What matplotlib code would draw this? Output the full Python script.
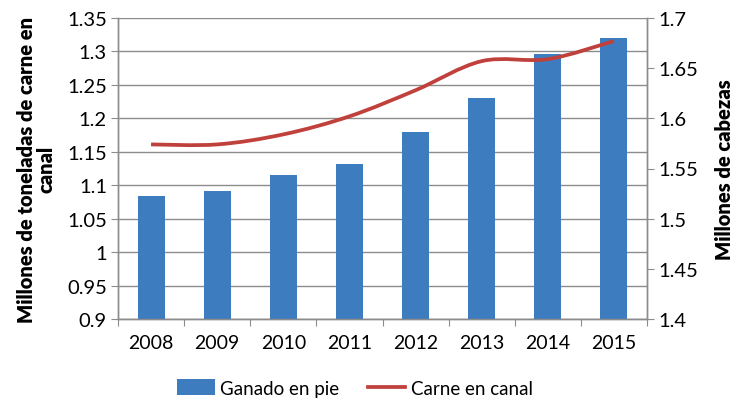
import numpy as np
import matplotlib
matplotlib.use("Agg")
import matplotlib.pyplot as plt
from matplotlib.path import Path
from matplotlib.patches import PathPatch, Patch
from matplotlib.lines import Line2D

# ==========================
# data
# ==========================
years = ["2008", "2009", "2010", "2011", "2012", "2013", "2014", "2015"]
ganado_en_pie = [1.084, 1.091, 1.115, 1.132, 1.179, 1.230, 1.296, 1.320]
carne_en_canal = [1.574, 1.574, 1.584, 1.602, 1.628, 1.657, 1.659, 1.677]

left_ticks = [0.9, 0.95, 1, 1.05, 1.1, 1.15, 1.2, 1.25, 1.3, 1.35]
right_ticks = [1.4, 1.45, 1.5, 1.55, 1.6, 1.65, 1.7]

bar_color = "#3E7CC0"
line_color = "#C0403C"
axis_gray = "#8C8C8C"

plt.rcParams["font.family"] = ["Lato", "DejaVu Sans"]

fig = plt.figure(figsize=(7.34, 4.02), dpi=100)
ax = fig.add_axes([118 / 734, 1 - 320 / 402, 529 / 734, 301 / 402])
ax2 = ax.twinx()

x = np.arange(len(years))
ax.bar(x, ganado_en_pie, width=0.41, color=bar_color, zorder=3)
ax.set_xlim(-0.5, len(years) - 0.5)
ax.set_ylim(0.9, 1.35)
ax.set_yticks(left_ticks)
ax.set_yticklabels([f"{v:g}" for v in left_ticks])
ax.yaxis.grid(True, color=axis_gray, linewidth=1.0)
ax.set_axisbelow(True)

# x ticks sit between categories, labels centred under bars
ax.set_xticks(np.arange(-0.5, len(years)), minor=False)
ax.set_xticklabels([])
ax.set_xticks(x, minor=True)
ax.set_xticklabels(years, minor=True)
ax.tick_params(axis="x", which="major", length=5, color=axis_gray, direction="out")
ax.tick_params(axis="x", which="minor", length=0, pad=11, labelsize=14)
ax.tick_params(axis="y", length=5, color=axis_gray, labelsize=14.5, pad=3)

# smooth line (Excel style) through the points via cubic bezier segments
ax2.set_ylim(1.4, 1.7)
ax2.set_yticks(right_ticks)
ax2.set_yticklabels([f"{v:g}" for v in right_ticks])
pts = np.column_stack([x, carne_en_canal]).astype(float)
verts = [tuple(pts[0])]
codes = [Path.MOVETO]
t = 1 / 6
for i in range(len(pts) - 1):
    p0 = pts[i - 1] if i > 0 else pts[i]
    p1 = pts[i]
    p2 = pts[i + 1]
    p3 = pts[i + 2] if i + 2 < len(pts) else pts[i + 1]
    c1 = p1 + (p2 - p0) * t
    c2 = p2 - (p3 - p1) * t
    verts += [tuple(c1), tuple(c2), tuple(p2)]
    codes += [Path.CURVE4] * 3
ax2.add_patch(PathPatch(Path(verts, codes), facecolor="none",
                        edgecolor=line_color, linewidth=2.7, capstyle="butt", zorder=4))
ax2.tick_params(axis="y", length=5, color=axis_gray, labelsize=14.5, pad=3)

for a in (ax, ax2):
    a.spines["top"].set_visible(False)
    for s in ("left", "right", "bottom"):
        a.spines[s].set_color(axis_gray)
        a.spines[s].set_linewidth(1.0)

ax.set_ylabel("Millones de toneladas de carne en\ncanal", fontsize=14.5,
              fontweight="heavy", labelpad=8, linespacing=1.05,
              multialignment="center")
ax2.set_ylabel("Millones de cabezas", fontsize=14.5, fontweight="heavy", labelpad=12)

handles = [Patch(facecolor=bar_color, label="Ganado en pie"),
           Line2D([], [], color=line_color, linewidth=2.7, label="Carne en canal")]
fig.legend(handles=handles, loc="center", bbox_to_anchor=(355 / 734, 1 - 389 / 402),
           ncol=2, frameon=False, fontsize=13.5, handlelength=2.0, handleheight=0.9,
           columnspacing=1.5, handletextpad=0.3)

fig.savefig("out.png", dpi=100)
